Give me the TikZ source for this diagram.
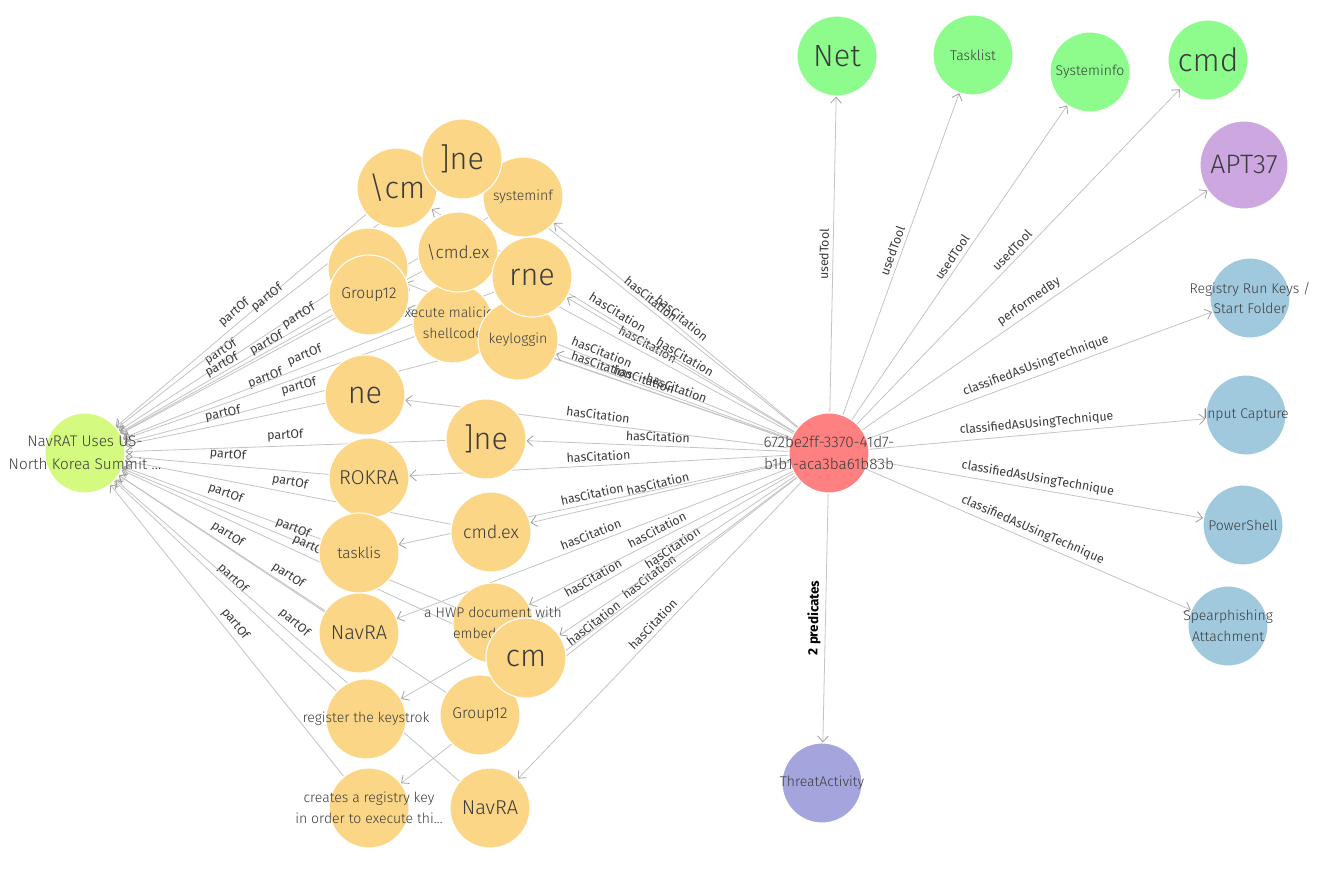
\documentclass[tikz,border=0pt]{standalone}
\usepackage{fontspec}
\setmainfont{Fira Sans}
\newfontfamily\lightf{Fira Sans Light}
\usetikzlibrary{arrows.meta,backgrounds}
\definecolor{orN}{RGB}{252,214,135}
\definecolor{grN}{RGB}{141,252,141}
\definecolor{puN}{RGB}{204,167,224}
\definecolor{blN}{RGB}{160,201,222}
\definecolor{ylN}{RGB}{212,250,128}
\definecolor{rdN}{RGB}{255,128,128}
\definecolor{viN}{RGB}{165,165,222}
\definecolor{edgeC}{RGB}{196,196,196}
\definecolor{tipC}{RGB}{160,160,160}
\definecolor{txtC}{RGB}{60,60,60}
\tikzset{
  nd/.style={circle,minimum size=60pt,inner sep=0pt,draw=white,line width=0.8pt},
  orn/.style={nd,fill=orN},
  grn/.style={nd,fill=grN},
  bln/.style={nd,fill=blN},
  tx/.style={text=txtC,align=center,inner sep=0pt,font=\lightf\fontsize{10.5}{15.5}\selectfont},
  T/.style={label={[tx]center:{#1}}},
  TS/.style 2 args={label={[tx,font=\lightf\fontsize{#1}{#1}\selectfont]center:{#2}}},
  ed/.style={draw=edgeC,line width=0.6pt,-{Straight Barb[length=4.5pt,width=8pt,color=tipC]}},
  lbl/.style={font=\fontsize{9.3}{10}\selectfont,text=txtC,sloped,above=2pt,midway,inner sep=1pt},
}
\begin{document}
\begin{tikzpicture}[x=0.75pt,y=-0.75pt]
\useasboundingbox (0,0) rectangle (1323,893);
% right-side nodes
\node[grn,TS={23}{Net}] (net) at (837,56) {};
\node[grn,T={Tasklist}] (tlist) at (973,55) {};
\node[grn,T={Systeminfo}] (sinfo) at (1090,72) {};
\node[grn,TS={24}{cmd}] (cmdT) at (1208,60) {};
\node[nd,fill=puN,minimum size=66pt,TS={20}{APT37}] (apt) at (1244,165) {};
\node[bln,T={Registry Run Keys /\\Start Folder}] (rrk) at (1250,298) {};
\node[bln,T={Input Capture}] (inp) at (1246,415) {};
\node[bln,T={PowerShell}] (psh) at (1243,525) {};
\node[bln,T={Spearphishing\\Attachment}] (spe) at (1228,626) {};
\node[nd,fill=viN,T={ThreatActivity}] (thr) at (822,783) {};
\node[nd,fill=rdN,label={[tx,font=\lightf\fontsize{11.5}{17}\selectfont]center:{672be2ff-3370-41d7-\\b1b1-aca3ba61b83b}}] (red) at (829,453) {};
\node[nd,fill=ylN,label={[tx,font=\lightf\fontsize{11.5}{17}\selectfont]center:{NavRAT Uses US-\\North Korea Summit …}}] (nav) at (85,453) {};
% left cluster
\node[orn] (hid) at (368,268) {};
\node[orn,TS={23}{\textbackslash cm}] (cmA) at (397,188) {};
\node[orn,T={systeminf}] (sysA) at (523,197) {};
\node[orn,TS={23}{]ne}] (neA) at (462,159) {};
\node[orn,T={execute malicious\\shellcode}] (exe) at (453,323) {};
\node[orn,TS={11.7}{Group12}] (g12a) at (369,295) {};
\node[orn,TS={13}{\textbackslash cmd.ex}] (cmdexA) at (458,252) {};
\node[orn,T={keyloggin}] (keyA) at (518,340) {};
\node[orn,TS={23}{rne}] (rneA) at (532,277) {};
\node[orn,TS={23}{ne}] (neB) at (365,395) {};
\node[orn,TS={23}{]ne}] (neC) at (486,439) {};
\node[orn,TS={15}{ROKRA}] (rok) at (369,478) {};
\node[orn,TS={11.5}{tasklis}] (task) at (359,553) {};
\node[orn,TS={15}{NavRA}] (navA) at (359,633) {};
\node[orn,TS={13.5}{cmd.ex}] (cmdexB) at (491,532) {};
\node[orn,T={a HWP document with\\embedded …}] (hwp) at (493,623) {};
\node[orn,TS={11.7}{Group12}] (g12b) at (480,715) {};
\node[orn,TS={23}{cm}] (cmB) at (526,658) {};
\node[orn,T={register the keystrok}] (reg) at (366,719) {};
\node[orn,T={creates a registry key\\in order to execute thi…}] (cre) at (369,808) {};
\node[orn,TS={15}{NavRA}] (navB) at (490,808) {};
\begin{scope}[on background layer]
\fill[white] (0,0) rectangle (1323,893);
\foreach \n in {hid,cmA,sysA,neA,exe,g12a,cmdexA,keyA,rneA,neB,neC,rok,task,navA,cmdexB,hwp,g12b,cmB,reg,cre,navB}{
  \draw[ed] (red) -- node[lbl]{hasCitation} (\n);
  \draw[ed] (\n) -- node[lbl]{partOf} (nav);
}
\foreach \n in {net,tlist,sinfo,cmdT}{
  \draw[ed] (red) -- node[lbl]{usedTool} (\n);
}
\draw[ed] (red) -- node[lbl]{performedBy} (apt);
\foreach \n in {rrk,inp,psh,spe}{
  \draw[ed] (red) -- node[lbl]{classifiedAsUsingTechnique} (\n);
}
\draw[ed] (red) -- node[lbl,font=\fontsize{10}{11}\selectfont\bfseries,text=black]{2 predicates} (thr);
\end{scope}
\end{tikzpicture}
\end{document}
